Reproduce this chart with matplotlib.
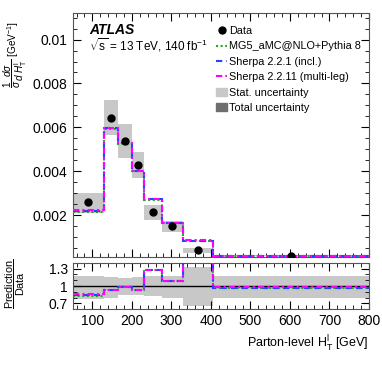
import numpy as np
import matplotlib
matplotlib.use('Agg')
import matplotlib.pyplot as plt
from matplotlib.ticker import MultipleLocator, FixedLocator
from matplotlib.lines import Line2D
from matplotlib.patches import Patch

plt.rcParams['font.family'] = ['Liberation Sans', 'DejaVu Sans']
plt.rcParams['mathtext.fontset'] = 'custom'
plt.rcParams['mathtext.rm'] = 'Liberation Sans'
plt.rcParams['mathtext.it'] = 'Liberation Sans:italic'
plt.rcParams['mathtext.bf'] = 'Liberation Sans:bold'

# bin edges in GeV
edges = np.array([50, 130, 165, 200, 230, 275, 330, 405, 800])
# unfolded data (normalised)
data = np.array([0.00258, 0.00642, 0.00538, 0.00430, 0.00213, 0.00149, 0.00040, 0.00015])
# uncertainty boxes in the main panel (absolute low / high edges)
box_lo = np.array([0.00208, 0.00565, 0.00462, 0.00370, 0.00178, 0.00124, 0.00026, 0.00012])
box_hi = np.array([0.00299, 0.00724, 0.00614, 0.00489, 0.00246, 0.00173, 0.00051, 0.00018])
# uncertainty band in the ratio panel
band_lo = np.array([0.77, 0.79, 0.84, 0.84, 0.82, 0.80, 0.66, 0.79])
band_hi = np.array([1.18, 1.15, 1.14, 1.15, 1.18, 1.18, 1.33, 1.18])
# predictions
mg5 = np.array([0.00212, 0.00594, 0.00526, 0.00400, 0.00270, 0.00162, 0.00083, 0.000146])
sherpa221 = np.array([0.00220, 0.00595, 0.00527, 0.00400, 0.00271, 0.00162, 0.00083, 0.000146])
sherpa2211 = np.array([0.00221, 0.00597, 0.00529, 0.00402, 0.00272, 0.00163, 0.00084, 0.000147])

centers = 0.5 * (edges[1:] + edges[:-1])
widths = np.diff(edges)

stat_col = '#c8c8c8'
tot_col = '#6e6e6e'
models = [
    (mg5, '#22aa22', (0, (1, 1.2)), 'MG5_aMC@NLO+Pythia 8'),
    (sherpa221, '#2244ff', (0, (3, 2)), 'Sherpa 2.2.1 (incl.)'),
    (sherpa2211, '#ff00ff', (0, (3, 1.5, 1, 1.5)), 'Sherpa 2.2.11 (multi-leg)'),
]

fig = plt.figure(figsize=(3.82, 3.67), dpi=100)
ax = fig.add_axes([0.19, 0.3005, 0.776, 0.6633])
rax = fig.add_axes([0.19, 0.1572, 0.776, 0.127])

# main panel
ax.bar(centers, box_hi - box_lo, bottom=box_lo, width=widths,
       color=stat_col, linewidth=0, zorder=1)
for vals, col, ls, lab in models:
    ax.stairs(vals, edges, baseline=None, color=col, linestyle=ls, linewidth=1.5, zorder=3)
ax.plot(centers, data, 'o', color='black', markersize=5, zorder=5)

ax.set_xlim(50, 800)
ax.set_ylim(0.0001, 0.0112)
ax.yaxis.set_major_locator(FixedLocator([0.002, 0.004, 0.006, 0.008, 0.01]))
ax.yaxis.set_minor_locator(MultipleLocator(0.0005))
ax.set_yticklabels(['0.002', '0.004', '0.006', '0.008', '0.01'])
ax.xaxis.set_major_locator(MultipleLocator(100))
ax.xaxis.set_minor_locator(MultipleLocator(20))
ax.tick_params(labelbottom=False)
ax.set_ylabel(r'$\dfrac{1}{\sigma}\dfrac{d\sigma}{d\ H_\mathrm{T}^\mathrm{l}}$ [GeV$^{-1}$]', fontsize=7.2)
ax.yaxis.set_label_coords(-0.148, 0.83)

ax.text(0.055, 0.96, 'ATLAS', transform=ax.transAxes, fontsize=10,
        fontweight='bold', fontstyle='italic', va='top')
ax.text(0.055, 0.905, r'$\sqrt{\mathrm{s}}$ = 13 TeV, 140 fb$^{-1}$', transform=ax.transAxes,
        fontsize=8.5, va='top')

handles = [Line2D([], [], marker='o', color='black', linestyle='none', markersize=5)]
for vals, col, ls, lab in models:
    handles.append(Line2D([], [], color=col, linestyle=ls, linewidth=1.5))
handles.append(Patch(color=stat_col))
handles.append(Patch(color=tot_col))
labels = ['Data'] + [m[3] for m in models] + ['Stat. uncertainty', 'Total uncertainty']
ax.legend(handles, labels, loc='upper left', bbox_to_anchor=(0.485, 0.948), frameon=False,
          fontsize=7.8, handlelength=1.0, handletextpad=0.2, labelspacing=0.5,
          borderaxespad=0, borderpad=0)

# ratio panel
rax.bar(centers, band_hi - band_lo, bottom=band_lo, width=widths,
        color=stat_col, linewidth=0, zorder=1)
rax.axhline(1, color='black', linewidth=1, zorder=2)
for vals, col, ls, lab in models:
    rax.stairs(vals / data, edges, baseline=None, color=col, linestyle=ls, linewidth=1.5, zorder=3)
rax.set_xlim(50, 800)
rax.set_ylim(0.6, 1.4)
rax.yaxis.set_major_locator(FixedLocator([0.7, 1.0, 1.3]))
rax.set_yticklabels(['0.7', '1', '1.3'])
rax.yaxis.set_minor_locator(MultipleLocator(0.1))
rax.xaxis.set_major_locator(MultipleLocator(100))
rax.xaxis.set_minor_locator(MultipleLocator(20))
rax.set_ylabel(r'$\dfrac{\mathrm{Prediction}}{\mathrm{Data}}$', fontsize=7.8)
rax.yaxis.set_label_coords(-0.154, 0.55)
rax.set_xlabel(r'Parton-level H$_\mathrm{T}^\mathrm{l}$ [GeV]', fontsize=9, loc='right')
rax.xaxis.set_label_coords(1.0, -0.52)

for a in (ax, rax):
    a.tick_params(which='both', direction='in', top=True, right=True, labelsize=10)
    a.tick_params(which='major', length=6)
    a.tick_params(which='minor', length=3)
    for s in a.spines.values():
        s.set_color('#555555')

fig.savefig('out.png', dpi=100)
